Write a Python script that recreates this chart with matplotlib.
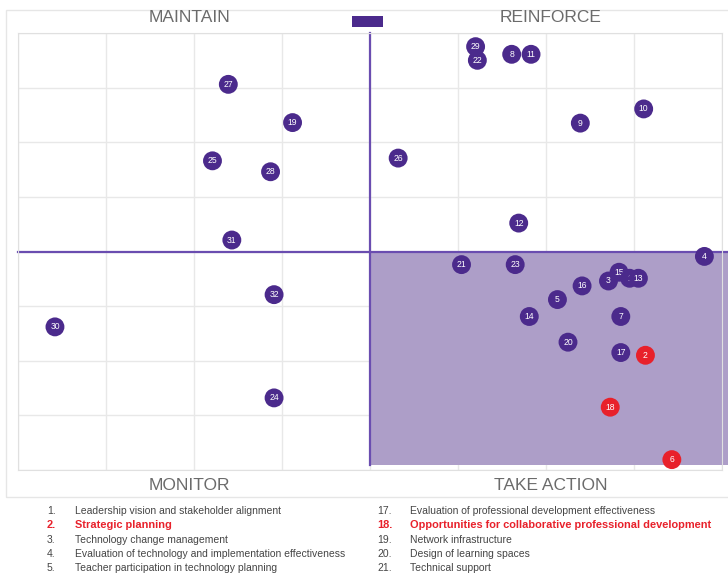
import matplotlib.pyplot as plt
from matplotlib.patches import Rectangle

plt.rcParams['font.family'] = ['Liberation Sans', 'DejaVu Sans']

# item numbers and their positions on the grid (centre = 0, 0)
ids = ['30', '27', '19', '25', '28', '31', '32', '24',
       '26', '29', '22', '8', '11', '9', '10', '12',
       '4', '21', '23', '15', '3', '1', '13', '16', '5', '14', '7',
       '20', '17', '2', '18', '6']
xs = [-3.58, -1.61, -0.88, -1.79, -1.13, -1.57, -1.09, -1.09,
      0.32, 1.20, 1.22, 1.61, 1.83, 2.39, 3.11, 1.69,
      3.80, 1.04, 1.65, 2.83, 2.71, 2.95, 3.05, 2.41, 2.13, 1.81, 2.85,
      2.25, 2.85, 3.13, 2.73, 3.43]
ys = [-1.38, 3.06, 2.36, 1.66, 1.46, 0.21, -0.79, -2.68,
      1.71, 3.75, 3.50, 3.61, 3.61, 2.35, 2.61, 0.52,
      -0.09, -0.24, -0.24, -0.38, -0.54, -0.49, -0.49, -0.63, -0.88, -1.19, -1.19,
      -1.66, -1.85, -1.90, -2.85, -3.81]
highlight = ['2', '18', '6']

quadrants = ['MAINTAIN', 'REINFORCE', 'MONITOR', 'TAKE ACTION']

legend_left = [('1.', 'Leadership vision and stakeholder alignment'),
               ('2.', 'Strategic planning'),
               ('3.', 'Technology change management'),
               ('4.', 'Evaluation of technology and implementation effectiveness'),
               ('5.', 'Teacher participation in technology planning')]
legend_right = [('17.', 'Evaluation of professional development effectiveness'),
                ('18.', 'Opportunities for collaborative professional development'),
                ('19.', 'Network infrastructure'),
                ('20.', 'Design of learning spaces'),
                ('21.', 'Technical support')]
legend_red = ['2.', '18.']

purple = '#4b2a8c'
line_purple = '#6a4db0'
red = '#e8212b'

fig = plt.figure(figsize=(7.28, 5.75), dpi=100)
ax = fig.add_axes([18 / 728, 1 - 470 / 575, 704 / 728, 437 / 575])
ax.set_xlim(-4, 4)
ax.set_ylim(-4, 4)
ax.set_xticks(range(-4, 5))
ax.set_yticks(range(-4, 5))
ax.tick_params(length=0, labelbottom=False, labelleft=False)
ax.grid(True, color='#e8e8e8', lw=1)
ax.set_axisbelow(True)
for s in ax.spines.values():
    s.set_color('#e0e0e0')

# shaded "take action" quadrant
ax.add_patch(Rectangle((0, -3.9), 4.07, 3.9, facecolor='#ad9ec8', edgecolor='none',
                       zorder=1, clip_on=False))
ax.plot([-4, 4.07], [0, 0], color=line_purple, lw=1.6, zorder=2, clip_on=False)
ax.plot([0, 0], [-3.9, 4], color=line_purple, lw=1.6, zorder=2, clip_on=False)

z = 3
for i, x, y in zip(ids, xs, ys):
    c = red if i in highlight else purple
    ax.scatter(x, y, s=185, color=c, edgecolors='none', zorder=z)
    ax.text(x, y, i, color='white', fontsize=6.2, ha='center', va='center', zorder=z + 0.5)
    z += 1

# quadrant titles
for label, (px, py) in zip(quadrants, [(189, 17), (551, 17), (189, 485), (551, 485)]):
    fig.text(px / 728, 1 - py / 575, label, ha='center', va='center', fontsize=12.5, color='#6b6b6b')
fig.patches.append(Rectangle((352 / 728, 1 - 27 / 575), 31 / 728, 11 / 575,
                             transform=fig.transFigure, facecolor=purple, edgecolor='none'))
fig.patches.append(Rectangle((6 / 728, 1 - 497 / 575), 740 / 728, 487 / 575,
                             transform=fig.transFigure, facecolor='none', edgecolor='#e6e6e6', lw=1))

# numbered key below the chart
row_y = [511, 525, 540, 554, 568]
for entries, num_x, text_x in [(legend_left, 47, 75), (legend_right, 377, 410)]:
    for (num, label), yy in zip(entries, row_y):
        red_row = num in legend_red
        col = red if red_row else '#454545'
        w = 'bold' if red_row else 'normal'
        fs = 7.9 if red_row else 7.5
        fig.text(num_x / 728, 1 - yy / 575, num, fontsize=fs, color=col, weight=w, va='center')
        fig.text(text_x / 728, 1 - yy / 575, label, fontsize=fs, color=col, weight=w, va='center')

fig.savefig('out.png', dpi=100)
